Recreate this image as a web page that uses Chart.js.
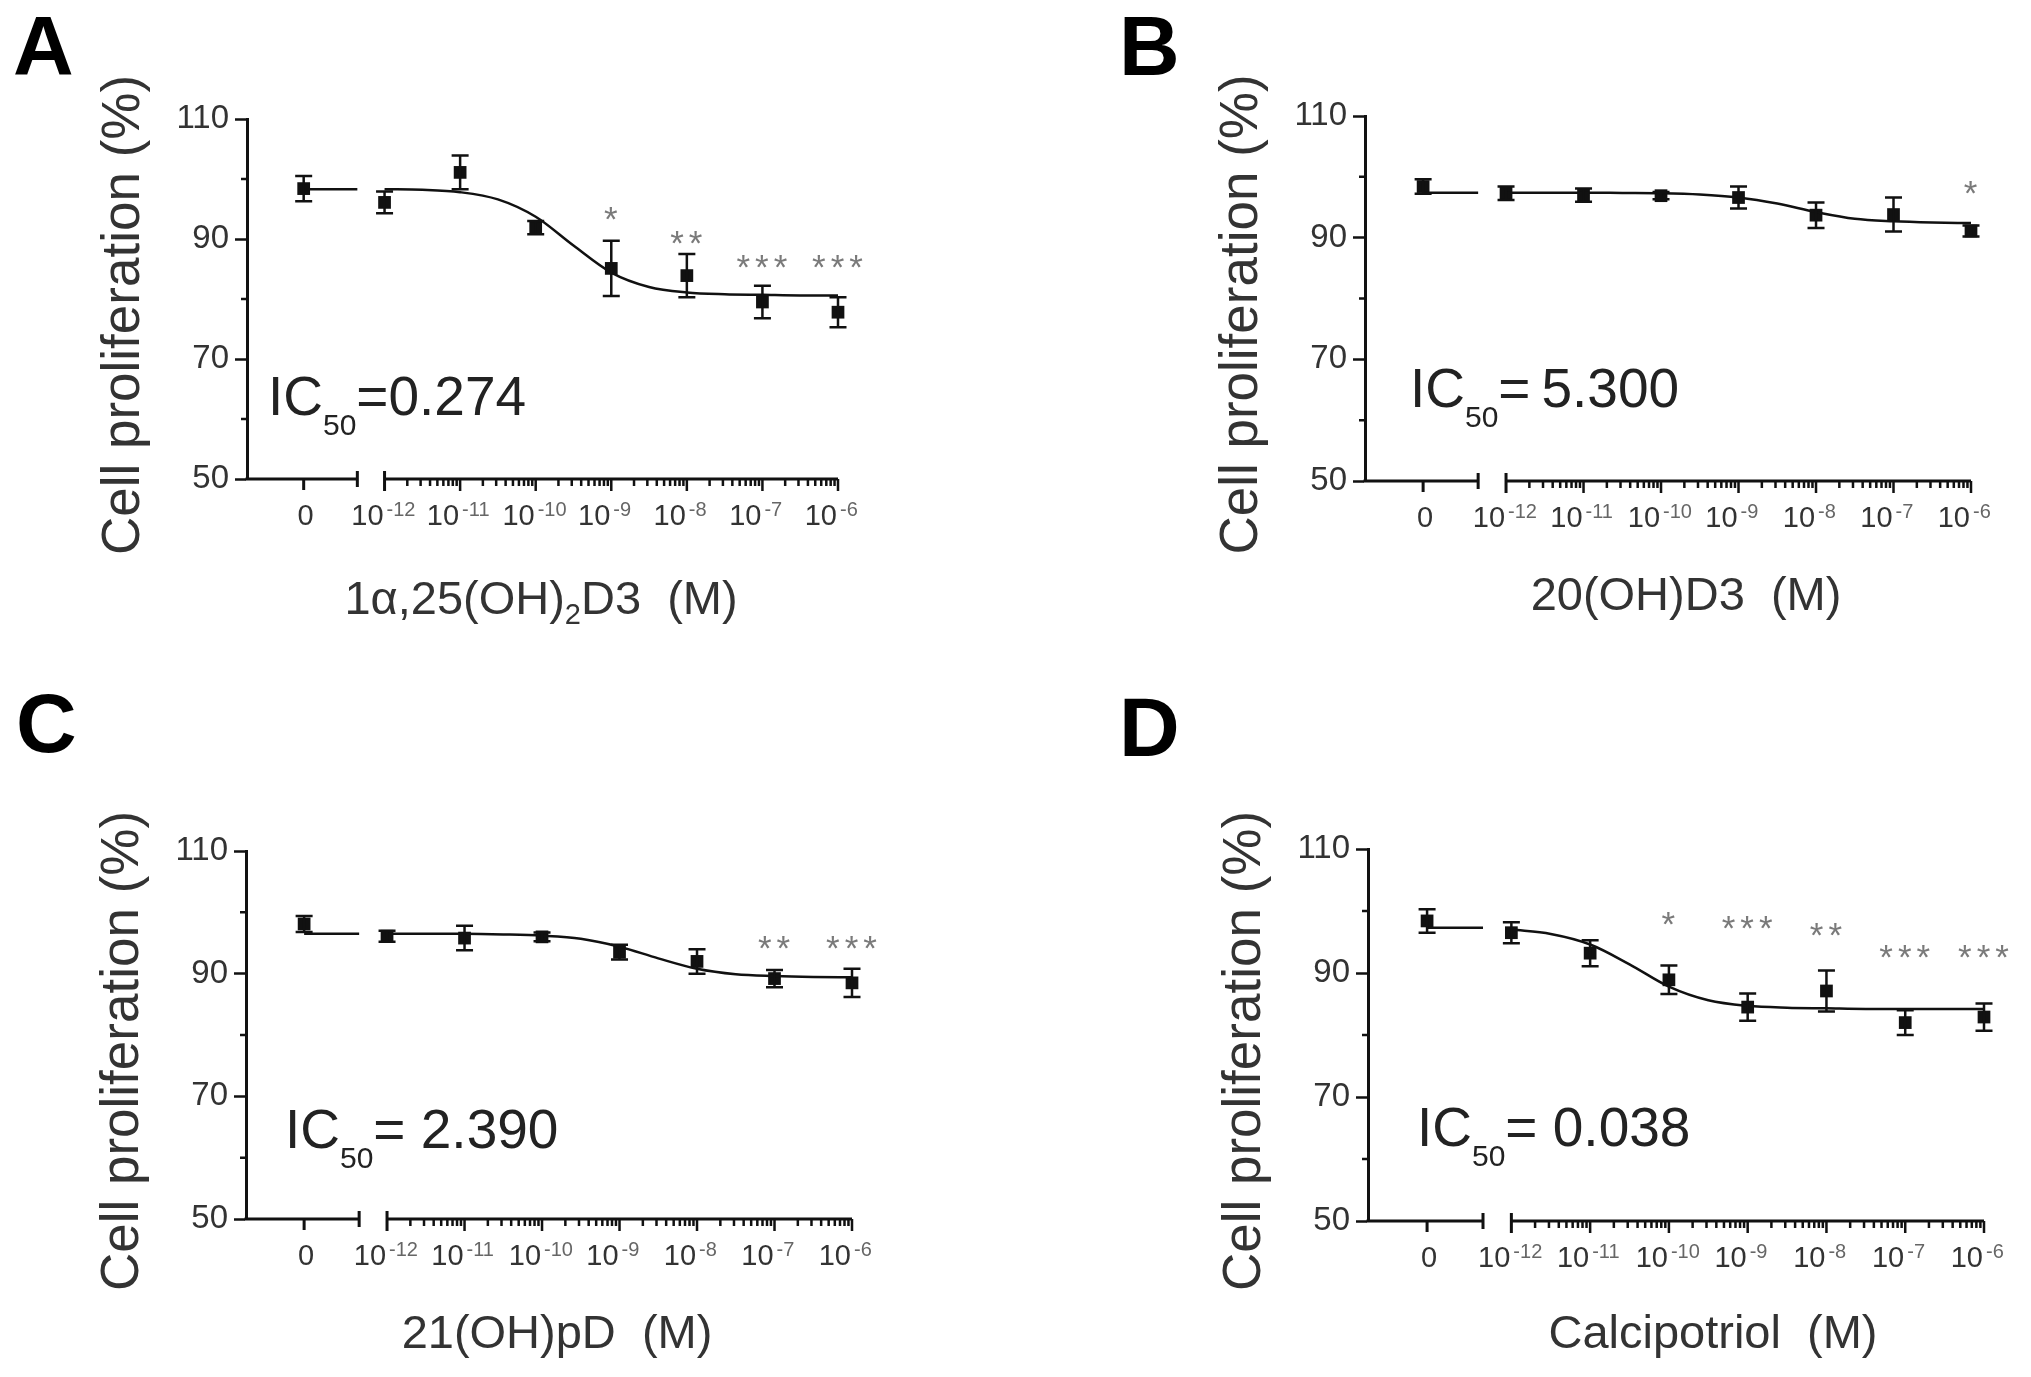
<!DOCTYPE html>
<html>
<head>
<meta charset="utf-8">
<script src="https://cdn.jsdelivr.net/npm/chart.js@4.4.1/dist/chart.umd.min.js"></script>
<style>
html,body{margin:0;padding:0;background:#fff;}
#wrap{position:relative;width:2031px;height:1377px;overflow:hidden;}
#wrap canvas{position:absolute;left:0;top:0;}
</style>
</head>
<body>
<div id="wrap">
<canvas id="cA" width="2031" height="1377"></canvas>
<canvas id="cB" width="2031" height="1377"></canvas>
<canvas id="cC" width="2031" height="1377"></canvas>
<canvas id="cD" width="2031" height="1377"></canvas>
</div>
<script>
// dose groups: 0 (vehicle) then 10^-12 ... 10^-6 M
const doseExp = [null, -12, -11, -10, -9, -8, -7, -6];
// fitted curve read at half-decade steps
const curveExp = [-12, -11.5, -11, -10.5, -10, -9.5, -9, -8.5, -8, -7.5, -7, -6.5, -6];
const yTicks = [50, 70, 90, 110];
const yMinor = [60, 80, 100];

// A: 1a,25(OH)2D3
const meanA = [98.4, 96.1, 101.1, 91.9, 85.1, 83.9, 79.5, 77.8];
const sdA = [2.1, 1.8, 2.8, 1.1, 4.6, 3.6, 2.7, 2.5];
const curveA = [98.3, 98.2, 97.8, 96.6, 93.7, 88.9, 84.4, 82.0, 81.1, 80.8, 80.7, 80.6, 80.6];
const zeroFitA = 98.3;
const starsA = ['', '', '', '', '*', '**', '***', '***'];
const starYA = [null, null, null, null, 94.7, 90.7, 86.7, 86.7];

// B: 20(OH)D3
const meanB = [98.4, 97.3, 97.0, 96.9, 96.6, 93.7, 93.8, 91.1];
const sdB = [1.2, 1.1, 1.1, 0.6, 1.8, 2.1, 2.8, 0.9];
const curveB = [97.4, 97.4, 97.4, 97.35, 97.3, 97.1, 96.6, 95.6, 94.2, 93.1, 92.7, 92.5, 92.4];
const zeroFitB = 97.4;
const starsB = ['', '', '', '', '', '', '', '*'];
const starYB = [null, null, null, null, null, null, null, 98.7];

// C: 21(OH)pD
const meanC = [98.1, 96.1, 95.8, 96.0, 93.5, 92.0, 89.2, 88.5];
const sdC = [1.3, 0.9, 2.0, 0.7, 1.2, 2.0, 1.4, 2.3];
const curveC = [96.5, 96.5, 96.5, 96.4, 96.2, 95.7, 94.4, 92.5, 90.8, 89.9, 89.6, 89.45, 89.4];
const zeroFitC = 96.5;
const starsC = ['', '', '', '', '', '', '**', '***'];
const starYC = [null, null, null, null, null, null, 95.5, 95.5];

// D: Calcipotriol
const meanD = [98.4, 96.5, 93.2, 88.9, 84.5, 87.1, 82.0, 82.9];
const sdD = [1.9, 1.7, 2.1, 2.3, 2.2, 3.3, 2.0, 2.2];
const curveD = [97.0, 96.3, 94.6, 91.4, 87.8, 85.6, 84.7, 84.4, 84.3, 84.2, 84.2, 84.2, 84.2];
const zeroFitD = 97.3;
const starsD = ['', '', '', '*', '***', '**', '***', '***'];
const starYD = [null, null, null, 99.2, 98.5, 97.4, 93.8, 93.8];

// axis layout (in log10 units): where the "0" group and the axis break sit
const X_MIN = -13.82, ZERO_POS = -13.07, BREAK_END = -12.36;
const FONT = '"Liberation Sans", Arial, Helvetica, sans-serif';

const panels = [
  {id:'cA', letter:'A', lx:13, ly:75, rect:{l:247, t:119, r:838, b:479},
   mean:meanA, sd:sdA, curve:curveA, zeroFit:zeroFitA, stars:starsA, starY:starYA,
   xTitle:[['1\u03b1,25(OH)','n'],['2','sub'],['D3  (M)','n']], xtx:541, xty:614,
   ic:'=0.274', icx:268, icy:415},
  {id:'cB', letter:'B', lx:1119, ly:75, rect:{l:1365, t:116, r:1971, b:481},
   mean:meanB, sd:sdB, curve:curveB, zeroFit:zeroFitB, stars:starsB, starY:starYB,
   xTitle:[['20(OH)D3  (M)','n']], xtx:1686, xty:610,
   ic:'=\u20095.300', icx:1410, icy:407},
  {id:'cC', letter:'C', lx:16, ly:752, rect:{l:246, t:851, r:852, b:1219},
   mean:meanC, sd:sdC, curve:curveC, zeroFit:zeroFitC, stars:starsC, starY:starYC,
   xTitle:[['21(OH)pD  (M)','n']], xtx:557, xty:1348,
   ic:'= 2.390', icx:285, icy:1148},
  {id:'cD', letter:'D', lx:1119, ly:756, rect:{l:1368, t:849, r:1984, b:1221},
   mean:meanD, sd:sdD, curve:curveD, zeroFit:zeroFitD, stars:starsD, starY:starYD,
   xTitle:[['Calcipotriol  (M)','n']], xtx:1713, xty:1348,
   ic:'= 0.038', icx:1417, icy:1146}
];

function drawRich(ctx, parts, cx, y, size, color){
  const sizes = {n:size, sub:Math.round(size*0.62), sup:Math.round(size*0.62)};
  const shift = {n:0, sub:size*0.22, sup:-size*0.4};
  let w = 0;
  parts.forEach(p => { ctx.font = sizes[p[1]] + 'px ' + FONT; w += ctx.measureText(p[0]).width; });
  let x = cx - w/2;
  ctx.fillStyle = color; ctx.textAlign = 'left'; ctx.textBaseline = 'alphabetic';
  parts.forEach(p => {
    ctx.font = sizes[p[1]] + 'px ' + FONT;
    ctx.fillText(p[0], x, y + shift[p[1]]);
    x += ctx.measureText(p[0]).width;
  });
}

const decor = {
  id:'decor',
  afterDatasetsDraw(chart, args, opts){
    const p = opts.panel, ctx = chart.ctx;
    const xs = chart.scales.x, ys = chart.scales.y;
    const px = v => xs.getPixelForValue(v), py = v => ys.getPixelForValue(v);
    ctx.save();
    ctx.strokeStyle = '#111'; ctx.lineCap = 'butt';
    // error bars (mean +/- SD)
    ctx.lineWidth = 2.5;
    p.mean.forEach((m, i) => {
      const x = px(doseExp[i] === null ? ZERO_POS : doseExp[i]);
      const t = py(m + p.sd[i]), b = py(m - p.sd[i]);
      ctx.beginPath();
      ctx.moveTo(x, t); ctx.lineTo(x, b);
      ctx.moveTo(x - 8.5, t); ctx.lineTo(x + 8.5, t);
      ctx.moveTo(x - 8.5, b); ctx.lineTo(x + 8.5, b);
      ctx.stroke();
    });
    // significance stars
    ctx.fillStyle = '#7a7a7a'; ctx.font = '35px ' + FONT; ctx.textAlign = 'center';
    ctx.textBaseline = 'alphabetic';
    if ('letterSpacing' in ctx) ctx.letterSpacing = '5px';
    p.stars.forEach((s, i) => {
      if (!s) return;
      ctx.fillText(s, px(doseExp[i]) + 2, py(p.starY[i]) + 20);
    });
    if ('letterSpacing' in ctx) ctx.letterSpacing = '0px';
    ctx.restore();
  },
  afterDraw(chart, args, opts){
    const p = opts.panel, ctx = chart.ctx, a = chart.chartArea;
    const xs = chart.scales.x, ys = chart.scales.y;
    const px = v => xs.getPixelForValue(v), py = v => ys.getPixelForValue(v);
    const y0 = a.bottom;
    ctx.save();
    ctx.strokeStyle = '#111'; ctx.lineWidth = 3; ctx.lineCap = 'butt';
    ctx.beginPath();
    // broken x axis: vehicle segment then log segment
    ctx.moveTo(a.left - 1.5, y0); ctx.lineTo(px(BREAK_END), y0);
    ctx.moveTo(px(BREAK_END), y0 - 8); ctx.lineTo(px(BREAK_END), y0 + 8);
    ctx.moveTo(px(ZERO_POS), y0); ctx.lineTo(px(ZERO_POS), y0 + 11);
    ctx.moveTo(px(-12), y0); ctx.lineTo(px(-6), y0);
    ctx.moveTo(px(-12), y0 - 8); ctx.lineTo(px(-12), y0 + 12);
    ctx.stroke();
    ctx.lineWidth = 2.5;
    ctx.beginPath();
    for (let e = -12; e < -6; e++) {
      for (let k = 2; k <= 9; k++) {
        const x = px(e + Math.log10(k));
        ctx.moveTo(x, y0); ctx.lineTo(x, y0 + 7);
      }
      ctx.moveTo(px(e + 1), y0); ctx.lineTo(px(e + 1), y0 + 12);
    }
    // minor y ticks
    yMinor.forEach(v => { ctx.moveTo(a.left, py(v)); ctx.lineTo(a.left - 6, py(v)); });
    ctx.stroke();
    // x tick labels
    ctx.textBaseline = 'alphabetic';
    doseExp.forEach(e => {
      if (e === null) {
        ctx.fillStyle = '#333'; ctx.font = '29px ' + FONT; ctx.textAlign = 'center';
        ctx.fillText('0', px(ZERO_POS) + 2, y0 + 46);
        return;
      }
      const x = px(e);
      ctx.fillStyle = '#333'; ctx.font = '29px ' + FONT; ctx.textAlign = 'right';
      ctx.fillText('10', x - 1, y0 + 46);
      ctx.fillStyle = '#666'; ctx.font = '20px ' + FONT; ctx.textAlign = 'left';
      ctx.fillText(String(e), x + 2, y0 + 37);
    });
    // y title
    ctx.save();
    ctx.translate(a.left - 123, (a.top + a.bottom) / 2 + 16);
    ctx.rotate(-Math.PI / 2);
    ctx.fillStyle = '#333'; ctx.font = '53px ' + FONT; ctx.textAlign = 'center'; ctx.textBaseline = 'middle';
    ctx.fillText('Cell proliferation (%)', 0, 0);
    ctx.restore();
    // x title
    drawRich(ctx, p.xTitle, p.xtx, p.xty, 47, '#333');
    // IC50 annotation
    ctx.textAlign = 'left'; ctx.textBaseline = 'alphabetic'; ctx.fillStyle = '#222';
    let x = p.icx;
    ctx.font = '55px ' + FONT; ctx.fillText('IC', x, p.icy); x += ctx.measureText('IC').width;
    ctx.font = '30px ' + FONT; ctx.fillText('50', x, p.icy + 20); x += ctx.measureText('50').width;
    ctx.font = '55px ' + FONT; ctx.fillText(p.ic, x, p.icy);
    // panel letter
    ctx.fillStyle = '#000'; ctx.font = 'bold 84px ' + FONT;
    ctx.fillText(p.letter, p.lx, p.ly);
    ctx.restore();
  }
};

panels.forEach(p => {
  const xy = (xs, ys) => xs.map((v, i) => ({x: v, y: ys[i]}));
  const pts = p.mean.map((m, i) => ({x: doseExp[i] === null ? ZERO_POS : doseExp[i], y: m}));
  new Chart(document.getElementById(p.id), {
    type: 'line',
    data: {
      datasets: [
        {data: xy(curveExp, p.curve), borderColor: '#111', borderWidth: 2.5, pointRadius: 0,
         cubicInterpolationMode: 'monotone', clip: false},
        {data: [{x: ZERO_POS, y: p.zeroFit}, {x: BREAK_END, y: p.zeroFit}], borderColor: '#111',
         borderWidth: 2.5, pointRadius: 0, clip: false},
        {data: pts, showLine: false, pointStyle: 'rect', pointRadius: 9, backgroundColor: '#111',
         borderColor: '#111', borderWidth: 0, clip: false}
      ]
    },
    options: {
      responsive: false,
      animation: false,
      events: [],
      layout: {padding: {left: p.rect.l - 140, top: p.rect.t, right: 2031 - p.rect.r, bottom: 1377 - p.rect.b}},
      scales: {
        x: {type: 'linear', display: false, min: X_MIN, max: -6},
        y: {
          type: 'linear', min: 50, max: 110,
          afterFit(s) { s.width = 140; },
          afterBuildTicks(s) { s.ticks = yTicks.map(v => ({value: v})); },
          ticks: {color: '#333', font: {family: FONT, size: 33}, padding: 6},
          grid: {drawOnChartArea: false, drawTicks: true, tickLength: 12, tickWidth: 2.5, tickColor: '#111'},
          border: {display: true, color: '#111', width: 3}
        }
      },
      plugins: {legend: {display: false}, tooltip: {enabled: false}, decor: {panel: p}}
    },
    plugins: [decor]
  });
});
</script>
</body>
</html>
